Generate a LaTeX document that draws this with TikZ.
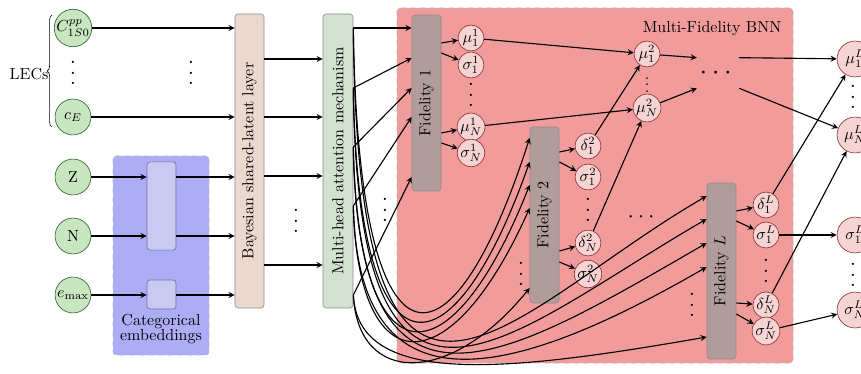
\documentclass[tikz,border=0pt]{standalone}
\usepackage{amssymb}
\usepackage{amsmath}
\usepackage{tikz}
\usetikzlibrary{shapes,arrows,decorations.pathreplacing}

\definecolor{lecgreen}{RGB}{200,230,192}
\definecolor{lecborder}{RGB}{50,95,45}
\definecolor{bayesfill}{RGB}{235,217,207}
\definecolor{attnfill}{RGB}{211,225,209}
\definecolor{embarea}{RGB}{173,173,245}
\definecolor{embfill}{RGB}{201,201,241}
\definecolor{embedge}{RGB}{110,110,150}
\definecolor{bnnarea}{RGB}{242,155,155}
\definecolor{fidfill}{RGB}{177,156,156}
\definecolor{outpink}{RGB}{246,212,212}
\definecolor{outborder}{RGB}{140,50,50}

% spaced vertical dots
\newcommand{\tallvdots}{\vbox{\baselineskip6.5pt\lineskiplimit0pt\hbox{\Large.}\hbox{\Large.}\hbox{\Large.}}}

\tikzstyle{arrow} = [line width=0.7pt,->,>=stealth]
\tikzstyle{inputnode} = [draw=lecborder, fill=lecgreen, circle, minimum size=0.79cm, inner sep=0pt]
\tikzstyle{outnode} = [draw=outborder, fill=outpink, circle, minimum size=0.57cm, inner sep=0pt]
\tikzstyle{finalnode} = [draw=outborder, fill=outpink, circle, minimum size=0.79cm, inner sep=0pt]
\tikzstyle{layerbox} = [draw=black!45, rounded corners=2pt, minimum width=0.64cm, inner sep=0pt]
\tikzstyle{fidelity} = [layerbox, fill=fidfill, minimum height=3.87cm]
\tikzstyle{embbox} = [draw=embedge, fill=embfill, rounded corners=2pt, minimum width=0.64cm, inner sep=0pt]
\tikzstyle{dotsnode} = [inner sep=0pt]

\begin{document}
\begin{tikzpicture}[x=0.022cm,y=-0.022cm]
        % Bounding box
        \useasboundingbox (0,0) rectangle (861,374);

        % Background areas
        \draw[dashed, draw=black!30, fill=bnnarea, rounded corners=2pt] (397,8) rectangle (793,363);
        \draw[dashed, draw=embedge!50, fill=embarea, rounded corners=2pt] (113,156) rectangle (209,355);
        \node (bnnlabel) at (712,29) {Multi-Fidelity BNN};
        \node[align=center] (emblabel) at (161,329) {Categorical\\[-2pt]embeddings};

        % Inputs
        \node[inputnode] (cpp)  at (73,28)  {$C^{pp}_{1S0}$};
        \node[dotsnode]  (lecdots) at (73,73) {\tallvdots};
        \node[inputnode] (ce)   at (73,117) {$c_E$};
        \node[inputnode] (z)    at (73,177) {Z};
        \node[inputnode] (n)    at (73,236) {N};
        \node[inputnode] (emax) at (73,295) {$e_{\max}$};
        \draw[decorate, decoration={brace, amplitude=3pt}] (52,127) -- (52,15);
        \node (lecs) at (29,74) {LECs};
        \node[dotsnode] (indots) at (191,73) {\tallvdots};

        % Embeddings and shared layers
        \node[embbox, minimum height=1.94cm] (embzn) at (161.5,206) {};
        \node[embbox, minimum height=0.64cm] (embe)  at (161.5,294.5) {};
        \node[layerbox, fill=bayesfill, minimum height=6.47cm] (bayes) at (249.5,161) {\rotatebox{90}{Bayesian shared-latent layer}};
        \node[layerbox, fill=attnfill, minimum width=0.66cm, minimum height=6.47cm] (attn) at (338,161) {\rotatebox{90}{Multi-head attention mechanism}};
        \node[dotsnode] (latdots) at (296,221) {\tallvdots};

        % Fidelities
        \node[fidelity] (fid1) at (426.5,103) {\rotatebox{90}{Fidelity 1}};
        \node[fidelity] (fid2) at (544.5,215) {\rotatebox{90}{Fidelity 2}};
        \node[fidelity] (fidL) at (721.5,271) {\rotatebox{90}{Fidelity $L$}};
        \node[dotsnode] (f1dots) at (385,210) {\tallvdots};
        \node[dotsnode] (f2dots) at (521,274) {\tallvdots};
        \node[dotsnode] (fLdots) at (692,305) {\tallvdots};
        \node[dotsnode] (middots) at (643,217) {\Large$\cdots$};

        % Outputs of each fidelity
        \node[outnode]  (mu11)  at (471,38)  {$\mu_1^1$};
        \node[outnode]  (sig11) at (471,65)  {$\sigma_1^1$};
        \node[dotsnode] (o1dots) at (471,95) {\tallvdots};
        \node[outnode]  (mun1)  at (471,127) {$\mu_N^1$};
        \node[outnode]  (sign1) at (471,153) {$\sigma_N^1$};

        \node[outnode]  (del12) at (588,146) {$\delta_1^2$};
        \node[outnode]  (sig12) at (588,177) {$\sigma_1^2$};
        \node[dotsnode] (o2dots) at (588,210) {\tallvdots};
        \node[outnode]  (deln2) at (588,243) {$\delta_N^2$};
        \node[outnode]  (sign2) at (588,274) {$\sigma_N^2$};

        \node[outnode]  (delL1) at (766,205) {$\delta_1^L$};
        \node[outnode]  (sigL1) at (766,235) {$\sigma_1^L$};
        \node[dotsnode] (oLdots) at (766,271) {\tallvdots};
        \node[outnode]  (delLn) at (766,305) {$\delta_N^L$};
        \node[outnode]  (sigLn) at (766,331) {$\sigma_N^L$};

        \node[outnode]  (mu12)  at (647,54)  {$\mu_1^2$};
        \node[dotsnode] (m2dots) at (647,80) {$\vdots$};
        \node[outnode]  (mun2)  at (647,108) {$\mu_N^2$};
        \node[minimum width=0.92cm, minimum height=0.66cm, inner sep=0pt] (bigdots) at (718,73) {\LARGE$\cdots$};

        % Final outputs
        \node[finalnode] (muL1f)  at (855,59)  {$\mu_1^L$};
        \node[dotsnode]  (mufdots) at (853,97) {\tallvdots};
        \node[finalnode] (muLnf)  at (855,135) {$\mu_N^L$};
        \node[finalnode] (sigL1f) at (855,235) {$\sigma_1^L$};
        \node[dotsnode]  (sigfdots) at (853,275) {\tallvdots};
        \node[finalnode] (sigLnf) at (855,310) {$\sigma_N^L$};

        % Edges into the shared layer
        \draw[arrow] (cpp) -- (cpp -| bayes.west);
        \draw[arrow] (ce) -- (ce -| bayes.west);
        \draw[arrow] (z) -- (z -| embzn.west);
        \draw[arrow] (n) -- (n -| embzn.west);
        \draw[arrow] (emax) -- (emax -| embe.west);
        \draw[arrow] (embzn.east |- z) -- (z -| bayes.west);
        \draw[arrow] (embzn.east |- n) -- (n -| bayes.west);
        \draw[arrow] (embe.east |- emax) -- (emax -| bayes.west);

        % Shared layer -> attention
        \foreach \y in {59,117,176,265}
            \draw[arrow] (bayes.east |- 0,\y) -- (attn.west |- 0,\y);

        % Attention heads -> fidelities
        \foreach \s/\a/\b/\c/\lo/\hi [count=\i] in {28/28/138/196/522/312, 88/58/162/219/488/335,
                147/88/185/243/452/359, 206/117/208/267/416/383, 295/177/288/337/388/372} {
            \coordinate (head\i) at (attn.east |- 0,\s);
            \coordinate (fa\i) at (fid1.west |- 0,\a);
            \coordinate (fb\i) at (fid2.west |- 0,\b);
            \coordinate (fc\i) at (fidL.west |- 0,\c);
            \draw[arrow] (head\i) -- (fa\i);
            \draw[arrow] (head\i) .. controls (358,386) and (450,386) .. (fb\i);
            \draw[arrow] (head\i) .. controls (358,\lo) and (506,\hi) .. (fc\i);
        }

        % Fidelity outputs
        \draw[arrow] (fid1.east |- 0,43)  -- (mu11);
        \draw[arrow] (fid1.east |- 0,53)  -- (sig11);
        \draw[arrow] (fid1.east |- 0,133) -- (mun1);
        \draw[arrow] (fid1.east |- 0,143) -- (sign1);
        \draw[arrow] (fid2.east |- 0,152) -- (del12);
        \draw[arrow] (fid2.east |- 0,162) -- (sig12);
        \draw[arrow] (fid2.east |- 0,251) -- (deln2);
        \draw[arrow] (fid2.east |- 0,262) -- (sign2);
        \draw[arrow] (fidL.east |- 0,211) -- (delL1);
        \draw[arrow] (fidL.east |- 0,221) -- (sigL1);
        \draw[arrow] (fidL.east |- 0,303) -- (delLn);
        \draw[arrow] (fidL.east |- 0,314) -- (sigLn);

        % Corrections between fidelities
        \draw[arrow] (mu11) -- (mu12);
        \draw[arrow] (mun1) -- (mun2);
        \draw[arrow] (del12) -- (mu12);
        \draw[arrow] (deln2) -- (mun2);
        \draw[arrow] (mu12) -- (bigdots.north west);
        \draw[arrow] (mun2) -- (bigdots.south west);
        \draw[arrow] (bigdots.north east) -- (muL1f);
        \draw[arrow] (bigdots.south east) -- (muLnf);
        \draw[arrow] (delL1) -- (muL1f);
        \draw[arrow] (delLn) -- (muLnf);
        \draw[arrow] (sigL1) -- (sigL1f);
        \draw[arrow] (sigLn) -- (sigLnf);

    \end{tikzpicture}
\end{document}
